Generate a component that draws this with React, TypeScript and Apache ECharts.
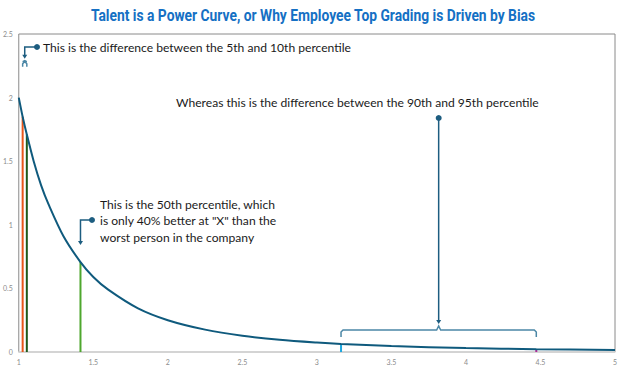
import React, { useEffect, useRef } from "react";
import * as echarts from "echarts";

const titleText = "Talent is a Power Curve, or Why Employee Top Grading is Driven by Bias";
const curveX = [1, 1.026, 1.054, 1.1, 1.15, 1.2, 1.3, 1.414, 1.5, 1.6, 1.8, 2, 2.25, 2.5, 2.75, 3, 3.162, 3.5, 4, 4.472, 5];
const curveY = [2.0, 1.85, 1.71, 1.5, 1.31, 1.16, 0.91, 0.707, 0.59, 0.49, 0.343, 0.25, 0.176, 0.128, 0.096, 0.074, 0.063, 0.047, 0.031, 0.022, 0.016];
const markerX = [1.026, 1.054, 1.414, 3.162, 4.472];
const markerY = [1.85, 1.71, 0.707, 0.063, 0.022];
const markerColors = ["#E8571B", "#1F5A1A", "#4EA72E", "#1EA7DF", "#B4279A"];
const note1 = "This is the difference between the 5th and 10th percentile";
const note2 = "Whereas this is the difference between the 90th and 95th percentile";
const note3 = ["This is the 50th percentile, which", "is only 40% better at \"X\" than the", "worst person in the company"];

const FONT = "Lato, 'Noto Sans', sans-serif";
const CONN = "#1D5D80";
const BRACE = "#4B87A6";

export default function App() {
  const ref = useRef<HTMLDivElement>(null);
  useEffect(() => {
    const chart = echarts.init(ref.current!, null, { renderer: "svg" });
    const curveData = curveX.map((x, i) => [x, curveY[i]]);
    const markerSeries = markerX.map((x, i) => ({
      type: "line",
      data: [[x, 0], [x, markerY[i]]],
      symbol: "none",
      lineStyle: { color: markerColors[i], width: 2 },
      z: 2,
      silent: true,
    }));
    chart.setOption({
      animation: false,
      grid: { left: 18, right: 9, top: 34, bottom: 17, show: true, borderColor: "#8a8a8a", borderWidth: 1 },
      xAxis: {
        type: "value", min: 1, max: 5, interval: 0.5,
        axisLine: { lineStyle: { color: "#d9d9d9", width: 1.5 } },
        axisTick: { show: false },
        splitLine: { show: false },
        axisLabel: { fontSize: 7, color: "#8c8c8c", margin: 6, fontFamily: FONT },
      },
      yAxis: {
        type: "value", min: 0, max: 2.5, interval: 0.5,
        axisLine: { show: false },
        axisTick: { show: false },
        splitLine: { show: false },
        axisLabel: { fontSize: 7, color: "#8c8c8c", margin: 6, fontFamily: FONT },
      },
      series: [
        ...markerSeries,
        {
          type: "line",
          data: curveData,
          symbol: "none",
          smooth: 0.3,
          lineStyle: { color: "#0F5A7D", width: 2 },
          z: 5,
        },
      ],
    });

    const px = (x: number, y: number) => chart.convertToPixel({ gridIndex: 0 }, [x, y]) as number[];
    const g: any[] = [];
    g.push({
      type: "text", x: 313, y: 16, scaleX: 0.865, originX: 0, originY: 0,
      style: { text: titleText, fontFamily: "Roboto, sans-serif", fontWeight: "bold", fontSize: 16, fill: "#1570C4", textAlign: "center", textVerticalAlign: "middle" },
      z: 10,
    });
    const line = (pts: number[][], color = CONN, w = 1.5) =>
      g.push({ type: "polyline", shape: { points: pts }, style: { stroke: color, lineWidth: w, fill: null }, z: 10 });
    const dot = (x: number, y: number) => g.push({ type: "circle", shape: { cx: x, cy: y, r: 3 }, style: { fill: CONN }, z: 10 });
    const arrowDown = (x: number, y: number) =>
      g.push({ type: "polygon", shape: { points: [[x - 2.5, y - 4], [x + 2.5, y - 4], [x, y]] }, style: { fill: CONN }, z: 10 });
    const brace = (x1: number, x2: number, y: number, leg: number, tip: number) => {
      const xm = (x1 + x2) / 2;
      line([[x1, y + leg], [x1, y + 2], [x1 + 2, y], [xm - 2, y], [xm, y - tip], [xm + 2, y], [x2 - 2, y], [x2, y + 2], [x2, y + leg]], BRACE, 1.5);
    };
    const text = (t: string, x: number, y: number) =>
      g.push({ type: "text", x, y, style: { text: t, fontFamily: FONT, fontSize: 12.1, fill: "#1a1a1a", textAlign: "left", textVerticalAlign: "middle" }, z: 10 });

    // 5th-10th note
    const a = px(markerX[0], 2.29);
    const b = px(markerX[1], 2.29);
    const am = (a[0] + b[0]) / 2;
    brace(a[0], b[0], a[1] + 1, 5, 1);
    line([[37, 47], [am, 47], [am, a[1] - 4]]);
    arrowDown(am, a[1] - 2);
    dot(37, 47);
    text(note1, 43, 47);

    // 50th note
    const m = px(markerX[2], 0.85);
    line([[92, 220], [m[0], 220], [m[0], m[1] - 2]]);
    arrowDown(m[0], m[1] + 1);
    dot(92, 220);
    note3.forEach((t, i) => text(t, 100, 204 + i * 16.5));

    // 90th-95th note
    const c = px(markerX[3], 0.173);
    const d = px(markerX[4], 0.173);
    const cm = (c[0] + d[0]) / 2;
    brace(c[0], d[0], c[1], 7, 4);
    line([[cm, 118], [cm, c[1] - 9]]);
    arrowDown(cm, c[1] - 6);
    dot(cm, 118);
    text(note2, 176, 102);

    chart.setOption({ graphic: g });
    return () => chart.dispose();
  }, []);
  return <div ref={ref} style={{ width: 624, height: 369, position: "absolute", left: 0, top: 0 }} />;
}
